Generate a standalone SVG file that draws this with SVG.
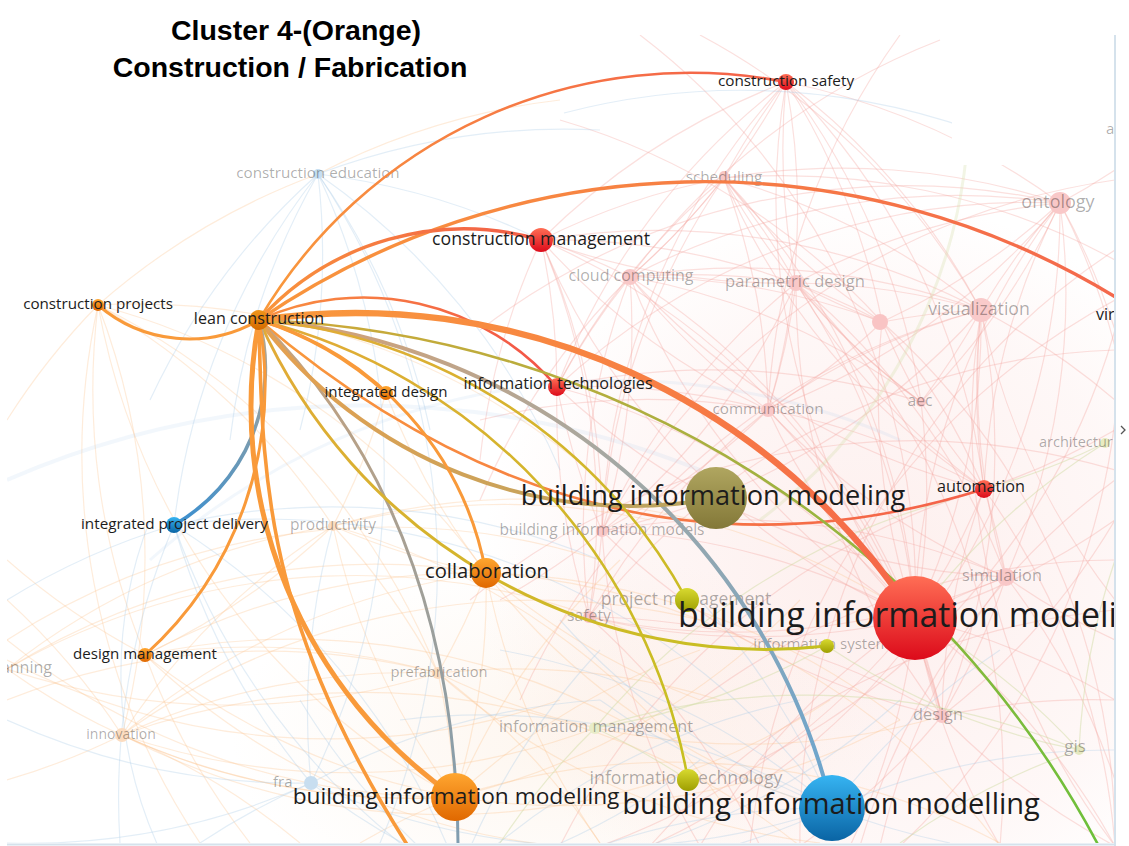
<svg xmlns="http://www.w3.org/2000/svg" width="1129" height="846" viewBox="0 0 1129 846">
<defs>
<style>
.t{font-family:"Liberation Sans",Arial,sans-serif;font-weight:bold;font-size:28.5px;fill:#000;text-anchor:middle}
.l{font-family:"Open Sans","Noto Sans",sans-serif;fill:#1c1c1c;text-anchor:middle}
.f{font-family:"Open Sans","Noto Sans",sans-serif;fill:#000;fill-opacity:.32;text-anchor:middle}
.p path{fill:none;stroke:#f5aaa3;stroke-opacity:.36;stroke-width:1.2}
.o path{fill:none;stroke:#fbc590;stroke-opacity:.32;stroke-width:1.2}
.b path{fill:none;stroke:#a9cbe8;stroke-opacity:.33;stroke-width:1.2}
.g path{fill:none;stroke:#d4dea8;stroke-opacity:.5;stroke-width:1.2}
.e path{fill:none;stroke-linecap:round}
</style>
<clipPath id="mc"><rect x="7" y="0" width="1108" height="843"/></clipPath>
<clipPath id="bc"><path d="M7 35H952V165H1115V843H7Z"/></clipPath>
<radialGradient id="tp" cx=".5" cy=".5" r=".5"><stop offset="0" stop-color="#f7b5ae" stop-opacity=".22"/><stop offset=".7" stop-color="#f7b5ae" stop-opacity=".1"/><stop offset="1" stop-color="#f7b5ae" stop-opacity="0"/></radialGradient>
<radialGradient id="to" cx=".5" cy=".5" r=".5"><stop offset="0" stop-color="#f8d2ae" stop-opacity=".2"/><stop offset="1" stop-color="#f8d2ae" stop-opacity="0"/></radialGradient>
<linearGradient id="nR" x1="0" y1="0" x2="0" y2="1"><stop offset="0" stop-color="#ff6e55"/><stop offset="1" stop-color="#dc0a1a"/></linearGradient>
<linearGradient id="nO" x1="0" y1="0" x2="0" y2="1"><stop offset="0" stop-color="#ffa630"/><stop offset="1" stop-color="#e06800"/></linearGradient>
<linearGradient id="nL" x1="0" y1="0" x2="0" y2="1"><stop offset="0" stop-color="#f0961a"/><stop offset="1" stop-color="#d46a00"/></linearGradient>
<linearGradient id="nV" x1="0" y1="0" x2="0" y2="1"><stop offset="0" stop-color="#b0a660"/><stop offset="1" stop-color="#837838"/></linearGradient>
<linearGradient id="nB" x1="0" y1="0" x2="0" y2="1"><stop offset="0" stop-color="#36b4f2"/><stop offset="1" stop-color="#0a64a4"/></linearGradient>
<linearGradient id="nY" x1="0" y1="0" x2="0" y2="1"><stop offset="0" stop-color="#d8da30"/><stop offset="1" stop-color="#9e9e00"/></linearGradient>
<linearGradient id="eCS" gradientUnits="userSpaceOnUse" x1="259" y1="320" x2="786" y2="82"><stop offset="0" stop-color="#f99a3c"/><stop offset="1" stop-color="#f4604a"/></linearGradient>
<linearGradient id="eVR" gradientUnits="userSpaceOnUse" x1="259" y1="320" x2="1115" y2="298"><stop offset="0" stop-color="#f9963c"/><stop offset="1" stop-color="#f4684c"/></linearGradient>
<linearGradient id="eCM" gradientUnits="userSpaceOnUse" x1="259" y1="320" x2="541" y2="240"><stop offset="0" stop-color="#f9963c"/><stop offset="1" stop-color="#f25c48"/></linearGradient>
<linearGradient id="eIT" gradientUnits="userSpaceOnUse" x1="259" y1="320" x2="557" y2="387"><stop offset="0" stop-color="#f99040"/><stop offset="1" stop-color="#f25048"/></linearGradient>
<linearGradient id="eRB" gradientUnits="userSpaceOnUse" x1="259" y1="320" x2="915" y2="618"><stop offset="0" stop-color="#f99a3c"/><stop offset="1" stop-color="#f5664a"/></linearGradient>
<linearGradient id="eAU" gradientUnits="userSpaceOnUse" x1="259" y1="320" x2="984" y2="489"><stop offset="0" stop-color="#f99a3c"/><stop offset="1" stop-color="#f4604a"/></linearGradient>
<linearGradient id="eOL" gradientUnits="userSpaceOnUse" x1="259" y1="320" x2="717" y2="498"><stop offset="0" stop-color="#e6a050"/><stop offset="1" stop-color="#b8a460"/></linearGradient>
<linearGradient id="eBB" gradientUnits="userSpaceOnUse" x1="259" y1="320" x2="832" y2="808"><stop offset="0" stop-color="#d9a070"/><stop offset=".45" stop-color="#a8a8a0"/><stop offset="1" stop-color="#6aa5d0"/></linearGradient>
<linearGradient id="eGR" gradientUnits="userSpaceOnUse" x1="259" y1="320" x2="458" y2="860"><stop offset="0" stop-color="#c9a27a"/><stop offset="1" stop-color="#7e9db2"/></linearGradient>
<linearGradient id="eIP" gradientUnits="userSpaceOnUse" x1="259" y1="320" x2="174" y2="525"><stop offset="0" stop-color="#b8a890"/><stop offset="1" stop-color="#3a8fd0"/></linearGradient>
<linearGradient id="eY" gradientUnits="userSpaceOnUse" x1="259" y1="320" x2="750" y2="700"><stop offset="0" stop-color="#e2aa38"/><stop offset="1" stop-color="#c6c020"/></linearGradient>
<linearGradient id="eGN" gradientUnits="userSpaceOnUse" x1="259" y1="320" x2="1100" y2="850"><stop offset="0" stop-color="#d0a838"/><stop offset=".45" stop-color="#a8b040"/><stop offset="1" stop-color="#6cc03a"/></linearGradient>
</defs>
<rect width="1129" height="846" fill="#fff"/>
<g id="title">
<text class="t" x="296" y="40">Cluster 4-(Orange)</text>
<text class="t" x="290" y="77">Construction / Fabrication</text>
</g>
<g clip-path="url(#bc)">
<ellipse cx="870" cy="580" rx="390" ry="380" fill="url(#tp)"/>
<ellipse cx="560" cy="740" rx="330" ry="190" fill="url(#to)"/>
<g id="connectors-background">
<g class="p">
<path d="M786 82A700 700 0 0 0 541 240"/><path d="M786 82A700 700 0 0 1 630 277"/><path d="M786 82A700 700 0 0 0 796 283"/><path d="M786 82A700 700 0 0 1 882 322"/><path d="M786 82A700 700 0 0 1 981 310"/><path d="M786 82A700 700 0 0 0 557 387"/><path d="M786 82A700 700 0 0 1 768 410"/><path d="M786 82A700 700 0 0 1 921 402"/><path d="M786 82A700 700 0 0 0 915 618"/><path d="M786 82A700 700 0 0 0 602 531"/><path d="M786 82A700 700 0 0 1 1060 203"/><path d="M786 82A700 700 0 0 1 984 489"/><path d="M786 82A700 700 0 0 0 724 178"/>
<path d="M724 178A700 700 0 0 0 541 240"/><path d="M724 178A700 700 0 0 1 630 277"/><path d="M724 178A700 700 0 0 1 796 283"/><path d="M724 178A700 700 0 0 0 882 322"/><path d="M724 178A700 700 0 0 1 981 310"/><path d="M724 178A700 700 0 0 1 1060 203"/><path d="M724 178A700 700 0 0 0 557 387"/><path d="M724 178A700 700 0 0 1 768 410"/><path d="M724 178A700 700 0 0 0 921 402"/><path d="M724 178A700 700 0 0 1 915 618"/><path d="M724 178A700 700 0 0 0 984 489"/><path d="M724 178A700 700 0 0 0 602 531"/><path d="M724 178A700 700 0 0 1 1115 260"/>
<path d="M1060 203A700 700 0 0 0 981 310"/><path d="M1060 203A700 700 0 0 1 882 322"/><path d="M1060 203A700 700 0 0 0 796 283"/><path d="M1060 203A700 700 0 0 0 630 277"/><path d="M1060 203A700 700 0 0 1 921 402"/><path d="M1060 203A700 700 0 0 0 984 489"/><path d="M1060 203A700 700 0 0 0 915 618"/><path d="M1060 203A700 700 0 0 1 1006 577"/><path d="M1060 203A700 700 0 0 1 1115 330"/><path d="M1060 203A700 700 0 0 0 1115 170"/><path d="M1060 203A700 700 0 0 1 768 410"/><path d="M1060 203A700 700 0 0 0 557 387"/>
<path d="M541 240A700 700 0 0 1 630 277"/><path d="M541 240A700 700 0 0 0 796 283"/><path d="M541 240A700 700 0 0 1 557 387"/><path d="M541 240A700 700 0 0 0 768 410"/><path d="M541 240A700 700 0 0 1 602 531"/><path d="M541 240A700 700 0 0 0 915 618"/><path d="M541 240A700 700 0 0 1 589 617"/><path d="M541 240A700 700 0 0 1 882 322"/><path d="M541 240A700 700 0 0 1 981 310"/><path d="M541 240A700 700 0 0 0 480 460"/>
<path d="M630 277A700 700 0 0 0 557 387"/><path d="M630 277A700 700 0 0 1 796 283"/><path d="M630 277A700 700 0 0 0 768 410"/><path d="M630 277A700 700 0 0 1 921 402"/><path d="M630 277A700 700 0 0 1 981 310"/><path d="M630 277A700 700 0 0 0 915 618"/><path d="M630 277A700 700 0 0 1 602 531"/><path d="M630 277A700 700 0 0 0 589 617"/><path d="M630 277A700 700 0 0 0 984 489"/><path d="M630 277A700 700 0 0 1 882 322"/>
<path d="M796 283A700 700 0 0 0 882 322"/><path d="M796 283A700 700 0 0 1 981 310"/><path d="M796 283A700 700 0 0 1 768 410"/><path d="M796 283A700 700 0 0 0 921 402"/><path d="M796 283A700 700 0 0 1 915 618"/><path d="M796 283A700 700 0 0 0 984 489"/><path d="M796 283A700 700 0 0 0 602 531"/><path d="M796 283A700 700 0 0 1 1006 577"/><path d="M796 283A700 700 0 0 0 942 716"/>
<path d="M981 310A700 700 0 0 1 921 402"/><path d="M981 310A700 700 0 0 0 984 489"/><path d="M981 310A700 700 0 0 1 915 618"/><path d="M981 310A700 700 0 0 0 1006 577"/><path d="M981 310A700 700 0 0 1 942 716"/><path d="M981 310A700 700 0 0 0 768 410"/><path d="M981 310A700 700 0 0 0 882 322"/><path d="M981 310A700 700 0 0 1 1115 400"/><path d="M981 310A700 700 0 0 0 1115 600"/><path d="M981 310A700 700 0 0 1 602 531"/>
<path d="M557 387A700 700 0 0 1 768 410"/><path d="M557 387A700 700 0 0 0 602 531"/><path d="M557 387A700 700 0 0 1 915 618"/><path d="M557 387A700 700 0 0 0 589 617"/><path d="M557 387A700 700 0 0 1 921 402"/>
<path d="M768 410A700 700 0 0 0 915 618"/><path d="M768 410A700 700 0 0 1 602 531"/><path d="M768 410A700 700 0 0 0 589 617"/><path d="M768 410A700 700 0 0 1 984 489"/><path d="M768 410A700 700 0 0 0 1006 577"/><path d="M768 410A700 700 0 0 1 942 716"/>
<path d="M915 618A700 700 0 0 0 984 489"/><path d="M915 618A700 700 0 0 1 1006 577"/><path d="M915 618A700 700 0 0 0 942 716"/><path d="M915 618A700 700 0 0 1 589 617"/><path d="M915 618A700 700 0 0 0 602 531"/><path d="M915 618A700 700 0 0 1 1115 700"/><path d="M915 618A700 700 0 0 0 1000 846"/><path d="M915 618A700 700 0 0 1 850 846"/><path d="M915 618A700 700 0 0 0 700 846"/><path d="M915 618A700 700 0 0 0 1115 520"/><path d="M915 618A700 700 0 0 1 600 846"/>
<path d="M984 489A700 700 0 0 1 1006 577"/><path d="M984 489A700 700 0 0 0 942 716"/><path d="M984 489A700 700 0 0 1 921 402"/><path d="M984 489A700 700 0 0 0 1115 430"/><path d="M1006 577A700 700 0 0 1 942 716"/><path d="M1006 577A700 700 0 0 0 1115 640"/><path d="M1006 577A700 700 0 0 1 1115 780"/><path d="M942 716A700 700 0 0 0 1115 846"/><path d="M942 716A700 700 0 0 1 800 846"/><path d="M942 716A700 700 0 0 1 1115 700"/>
<path d="M882 322A700 700 0 0 0 921 402"/><path d="M882 322A700 700 0 0 1 984 489"/><path d="M882 322A700 700 0 0 0 915 618"/><path d="M882 322A700 700 0 0 1 768 410"/><path d="M921 402A700 700 0 0 1 915 618"/><path d="M602 531A700 700 0 0 1 589 617"/><path d="M602 531A700 700 0 0 0 700 846"/><path d="M589 617A700 700 0 0 1 760 846"/>
<path d="M1115 250A700 700 0 0 0 800 846"/><path d="M640 35A700 700 0 0 1 915 618"/><path d="M900 35A700 700 0 0 0 768 410"/><path d="M700 35A700 700 0 0 1 981 310"/><path d="M940 40A700 700 0 0 0 630 277"/><path d="M560 120A700 700 0 0 1 882 322"/><path d="M1115 180A700 700 0 0 0 602 531"/><path d="M480 330A700 700 0 0 1 1060 203"/><path d="M470 600A700 700 0 0 1 1115 470"/><path d="M1115 560A700 700 0 0 0 700 700"/><path d="M1115 330A700 700 0 0 1 760 760"/><path d="M650 846A700 700 0 0 1 1115 610"/>
<path d="M1115 480A700 700 0 0 0 860 846"/><path d="M1115 420A700 700 0 0 1 900 846"/><path d="M1060 203A700 700 0 0 1 1115 700"/><path d="M1006 577A700 700 0 0 0 880 846"/><path d="M984 489A700 700 0 0 1 1115 846"/><path d="M915 618A700 700 0 0 1 1115 846"/><path d="M942 716A700 700 0 0 0 1115 520"/><path d="M981 310A700 700 0 0 0 1115 846"/><path d="M882 322A700 700 0 0 1 1115 846"/><path d="M796 283A700 700 0 0 1 1000 846"/><path d="M630 277A700 700 0 0 1 942 716"/><path d="M541 240A700 700 0 0 1 942 716"/><path d="M557 387A700 700 0 0 0 1006 577"/><path d="M602 531A700 700 0 0 1 1006 577"/><path d="M589 617A700 700 0 0 0 1006 577"/><path d="M589 617A700 700 0 0 1 942 716"/><path d="M602 531A700 700 0 0 0 942 716"/><path d="M480 420A700 700 0 0 1 768 410"/><path d="M480 500A700 700 0 0 1 630 277"/><path d="M500 600A700 700 0 0 0 796 283"/><path d="M520 700A700 700 0 0 1 981 310"/><path d="M560 846A700 700 0 0 1 984 489"/><path d="M650 846A700 700 0 0 0 1060 203"/><path d="M750 846A700 700 0 0 1 1115 300"/><path d="M1115 350A700 700 0 0 0 589 617"/>
</g>
<g class="o">
<path d="M98 305A700 700 0 0 1 122 735"/><path d="M98 305A700 700 0 0 0 145 655"/><path d="M98 305A700 700 0 0 1 333 526"/><path d="M98 305A700 700 0 0 1 438 673"/><path d="M98 305A700 700 0 0 1 486 573"/><path d="M98 305A700 700 0 0 0 7 420"/><path d="M98 305A700 700 0 0 0 200 843"/><path d="M98 305A700 700 0 0 1 318 174"/><path d="M318 174A700 700 0 0 1 560 100"/><path d="M98 305A700 700 0 0 0 455 797"/><path d="M98 305A700 700 0 0 1 600 480"/>
<path d="M122 735A700 700 0 0 1 438 673"/><path d="M122 735A700 700 0 0 1 486 573"/><path d="M122 735A700 700 0 0 0 455 797"/><path d="M122 735A700 700 0 0 1 333 526"/><path d="M122 735A700 700 0 0 0 7 600"/><path d="M122 735A700 700 0 0 1 300 843"/><path d="M122 735A700 700 0 0 0 595 728"/><path d="M122 735A700 700 0 0 1 7 780"/><path d="M122 735A700 700 0 0 1 700 620"/><path d="M122 735A700 700 0 0 0 830 700"/>
<path d="M7 669A700 700 0 0 1 333 526"/><path d="M7 669A700 700 0 0 1 486 573"/><path d="M7 669A700 700 0 0 0 438 673"/><path d="M7 669A700 700 0 0 0 455 797"/><path d="M7 669A700 700 0 0 1 650 640"/><path d="M7 660A700 700 0 0 0 560 700"/><path d="M7 640A700 700 0 0 1 600 560"/>
<path d="M145 655A700 700 0 0 1 438 673"/><path d="M145 655A700 700 0 0 1 486 573"/><path d="M145 655A700 700 0 0 0 333 526"/><path d="M145 655A700 700 0 0 0 455 797"/><path d="M145 655A700 700 0 0 1 620 720"/><path d="M145 655A700 700 0 0 1 7 560"/><path d="M145 655A700 700 0 0 0 250 843"/>
<path d="M333 526A700 700 0 0 0 486 573"/><path d="M333 526A700 700 0 0 1 438 673"/><path d="M333 526A700 700 0 0 0 455 797"/><path d="M333 526A700 700 0 0 1 720 800"/><path d="M333 526A700 700 0 0 1 650 520"/><path d="M333 526A700 700 0 0 0 386 393"/>
<path d="M438 673A700 700 0 0 1 455 797"/><path d="M438 673A700 700 0 0 0 486 573"/><path d="M438 673A700 700 0 0 1 720 700"/><path d="M438 673A700 700 0 0 0 820 843"/><path d="M438 673A700 700 0 0 1 600 843"/><path d="M438 673A700 700 0 0 0 7 700"/>
<path d="M486 573A700 700 0 0 1 455 797"/><path d="M486 573A700 700 0 0 0 700 700"/><path d="M486 573A700 700 0 0 1 900 720"/><path d="M486 573A700 700 0 0 0 830 810"/><path d="M486 573A700 700 0 0 1 386 393"/><path d="M486 573A700 700 0 0 0 600 843"/>
<path d="M455 797A700 700 0 0 1 700 650"/><path d="M455 797A700 700 0 0 0 900 720"/><path d="M455 797A700 700 0 0 1 620 560"/><path d="M455 797A700 700 0 0 1 7 640"/><path d="M455 797A700 700 0 0 0 360 843"/><path d="M455 797A700 700 0 0 1 1000 843"/><path d="M455 797A700 700 0 0 0 800 600"/>
<path d="M486 573A700 700 0 0 1 1000 846"/><path d="M438 673A700 700 0 0 0 942 716"/><path d="M333 526A700 700 0 0 1 915 618"/><path d="M145 655A700 700 0 0 0 700 846"/><path d="M122 735A700 700 0 0 1 800 846"/>
</g>
<g class="b">
<path d="M318 174A700 700 0 0 0 174 525"/><path d="M318 174A700 700 0 0 0 230 440"/><path d="M318 174A700 700 0 0 1 311 783"/><path d="M318 174A700 700 0 0 1 380 843"/><path d="M318 174A700 700 0 0 1 560 470"/><path d="M318 174A700 700 0 0 1 541 240"/><path d="M318 174A700 700 0 0 1 300 430"/><path d="M318 174A700 700 0 0 1 430 430"/><path d="M318 174A700 700 0 0 1 600 130"/><path d="M318 174A700 700 0 0 0 150 400"/>
<path d="M174 525A700 700 0 0 0 311 783"/><path d="M174 525A700 700 0 0 1 832 808"/><path d="M174 525A700 700 0 0 1 600 560"/><path d="M174 525A700 700 0 0 0 400 843"/><path d="M174 525A700 700 0 0 0 7 600"/><path d="M174 525A700 700 0 0 1 457 870"/><path d="M174 525A700 700 0 0 0 120 843"/>
<path d="M311 783A700 700 0 0 0 832 808"/><path d="M311 783A700 700 0 0 1 7 720"/><path d="M311 783A700 700 0 0 0 200 843"/><path d="M311 783A700 700 0 0 1 333 526"/><path d="M311 783A700 700 0 0 1 600 700"/><path d="M311 783A700 700 0 0 0 457 870"/><path d="M311 783A700 700 0 0 1 7 843"/>
<path d="M832 808A700 700 0 0 0 500 650"/><path d="M832 808A700 700 0 0 1 600 700"/><path d="M832 808A700 700 0 0 0 700 600"/><path d="M832 808A700 700 0 0 1 1115 750"/><path d="M832 808A700 700 0 0 0 950 843"/><path d="M832 808A700 700 0 0 1 457 870"/><path d="M832 808A700 700 0 0 0 400 720"/><path d="M832 808A700 700 0 0 1 1000 650"/>
<path d="M457 880A700 700 0 0 1 600 650"/><path d="M457 880A700 700 0 0 0 700 760"/><path d="M457 880A700 700 0 0 1 300 700"/><path d="M457 880A700 700 0 0 1 800 700"/>
<path d="M832 808A700 700 0 0 0 600 846"/><path d="M832 808A700 700 0 0 1 560 620"/><path d="M457 880A700 700 0 0 0 900 700"/>
<path d="M7 480A900 900 0 0 1 700 470" style="stroke-width:4;stroke-opacity:.15"/><path d="M150 560A700 700 0 0 1 900 440" style="stroke-width:3;stroke-opacity:.15"/><path d="M150 520A420 420 0 0 0 158 846"/><path d="M564 113A700 700 0 0 1 1000 140"/>
</g>
<g class="g">
<path d="M595 728A700 700 0 0 1 1079 750"/><path d="M595 728A700 700 0 0 0 827 646"/><path d="M595 728A700 700 0 0 1 688 780"/><path d="M595 728A700 700 0 0 0 500 843"/><path d="M595 728A700 700 0 0 1 950 500"/><path d="M1079 750A700 700 0 0 0 915 618"/><path d="M1079 750A700 700 0 0 1 1115 560"/><path d="M1079 750A700 700 0 0 0 900 843"/><path d="M1079 750A700 700 0 0 1 827 646"/><path d="M1105 443A700 700 0 0 0 915 618"/><path d="M1105 443A700 700 0 0 1 984 489"/>
<path d="M965 40A520 520 0 0 1 760 520" style="stroke-width:3;stroke-opacity:.3"/>
</g>
</g>
</g>
<g clip-path="url(#mc)">
<g id="n-construction-education"><circle cx="318" cy="174" r="5" fill="#c5def2"/><text class="f" x="318" y="178" font-size="15.2">construction education</text></g>
<g id="n-scheduling"><circle cx="724" cy="176" r="5" fill="#f9c6c4"/><text class="f" x="724" y="182" font-size="15.3">scheduling</text></g>
<g id="n-ontology"><circle cx="1060" cy="203" r="11" fill="#f9c8c8"/><text class="f" x="1058" y="208" font-size="18">ontology</text></g>
<g id="n-cloud-computing"><circle cx="630" cy="277" r="8" fill="#f9c8c8"/><text class="f" x="631" y="281" font-size="16">cloud computing</text></g>
<g id="n-parametric-design"><circle cx="796" cy="283" r="8" fill="#f9c8c8"/><text class="f" x="795" y="287" font-size="16.6">parametric design</text></g>
<g id="n-hidden"><circle cx="880" cy="322" r="8" fill="#f9c4c4"/></g>
<g id="n-visualization"><circle cx="981" cy="310" r="12" fill="#f9caca"/><text class="f" x="979" y="315" font-size="17.7">visualization</text></g>
<g id="n-communication"><circle cx="768" cy="410" r="7" fill="#f9c8c8"/><text class="f" x="768" y="414" font-size="15.3">communication</text></g>
<g id="n-aec"><circle cx="921" cy="402" r="5" fill="#f9c8c8"/><text class="f" x="920" y="406" font-size="15.7">aec</text></g>
<g id="n-architecture"><circle cx="1105" cy="443" r="5" fill="#e8ecc0"/><text class="f" x="1039" y="447" font-size="14.5" style="text-anchor:start">architectur</text></g>
<g id="n-a"><text class="f" x="1106" y="134" font-size="15" style="text-anchor:start">a</text></g>
<g id="n-building-information-models"><circle cx="602" cy="531" r="6" fill="#f9c8c8"/><text class="f" x="602" y="535" font-size="15.5">building information models</text></g>
<g id="n-productivity"><circle cx="333" cy="526" r="5" fill="#fcdcc0"/><text class="f" x="333" y="530" font-size="15.5">productivity</text></g>
<g id="n-simulation"><circle cx="1006" cy="577" r="9" fill="#f9c8c8"/><text class="f" x="1002" y="581" font-size="16.3">simulation</text></g>
<g id="n-safety"><circle cx="589" cy="617" r="6" fill="#f9c4c4"/><text class="f" x="589" y="621" font-size="15.8">safety</text></g>
<g id="n-planning"><text class="f" x="19.5" y="673" font-size="16">planning</text></g>
<g id="n-prefabrication"><circle cx="438" cy="673" r="6" fill="#fcdcc0"/><text class="f" x="439" y="677" font-size="14.7">prefabrication</text></g>
<g id="n-design"><circle cx="942" cy="716" r="7" fill="#f9c8c8"/><text class="f" x="938" y="720" font-size="16.3">design</text></g>
<g id="n-innovation"><circle cx="122" cy="735" r="7" fill="#fcdcc0"/><text class="f" x="121" y="739" font-size="14">innovation</text></g>
<g id="n-information-management"><circle cx="595" cy="728" r="6" fill="#e8ecc8"/><text class="f" x="596" y="732" font-size="16.2">information management</text></g>
<g id="n-gis"><circle cx="1079" cy="750" r="5" fill="#e5e8c0"/><text class="f" x="1075" y="752" font-size="17">gis</text></g>
<g id="n-framework"><circle cx="311" cy="783" r="7" fill="#c8def0"/><text class="f" x="273" y="787" font-size="15" style="text-anchor:start">fra</text></g>
<g id="n-project-management-label"><text class="f" x="686" y="605" font-size="17.5">project management</text></g>
<g id="n-information-systems-label"><text class="f" x="825" y="649" font-size="15">information systems</text></g>
<g id="n-information-technology-label"><text class="f" x="686" y="784" font-size="17.7">information technology</text></g>

<g id="connectors" class="e">
<path d="M259 320A500 500 0 0 1 786 82" stroke="url(#eCS)" stroke-width="2.6"/>
<path d="M259 320A788 788 0 0 1 1117 298" stroke="url(#eVR)" stroke-width="3.4"/>
<path d="M259 320A276 276 0 0 1 541 240" stroke="url(#eCM)" stroke-width="3.4"/>
<path d="M259 320A254 254 0 0 1 557 387" stroke="url(#eIT)" stroke-width="2.6"/>
<path d="M259 320Q600 610 984 489" stroke="url(#eAU)" stroke-width="2.6"/>
<path d="M259 320A990 990 0 0 1 1104 856" stroke="url(#eGN)" stroke-width="2.6"/>
<path d="M259 320A641 641 0 0 1 832 808" stroke="url(#eBB)" stroke-width="4"/>
<path d="M259 320C340 400 460 560 458 860" stroke="url(#eGR)" stroke-width="3"/>
<path d="M259 320A465 465 0 0 0 717 498" stroke="url(#eOL)" stroke-width="4"/>
<path d="M259 320A540 540 0 0 1 687 600" stroke="url(#eY)" stroke-width="2.6"/>
<path d="M259 320A578 578 0 0 1 688 780" stroke="url(#eY)" stroke-width="2.6"/>
<path d="M259 320A555 555 0 0 0 827 646" stroke="url(#eY)" stroke-width="3"/>
<path d="M259 320A339 339 0 0 1 386 393" stroke="#f99a3a" stroke-width="3"/>
<path d="M259 320A325 325 0 0 1 486 573" stroke="#f99a3a" stroke-width="3"/>
<path d="M259 320A139 139 0 0 1 98 305" stroke="#f99a3a" stroke-width="3"/>
<path d="M259 320A181 181 0 0 1 174 525" stroke="url(#eIP)" stroke-width="3.6"/>
<path d="M259 320A363 363 0 0 1 145 655" stroke="#f99a3a" stroke-width="3"/>
<path d="M259 320A475 475 0 0 0 455 797" stroke="#f99a3a" stroke-width="5"/>
<path d="M259 320C262 500 270 640 430 880" stroke="#f99a3a" stroke-width="3.6"/>
<path d="M259 320A665 665 0 0 1 915 618" stroke="url(#eRB)" stroke-width="6.5"/>
</g>

<g id="n-construction-safety"><circle cx="786" cy="82" r="8" fill="url(#nR)"/><text class="l" x="786" y="86" font-size="15.3">construction safety</text></g>
<g id="n-construction-management"><circle cx="541" cy="240" r="12" fill="url(#nR)"/><text class="l" x="541" y="245" font-size="17.7">construction management</text></g>
<g id="n-construction-projects"><circle cx="98" cy="305" r="6" fill="url(#nO)"/><text class="l" x="98" y="309" font-size="15.2">construction projects</text></g>
<g id="n-lean-construction"><circle cx="259" cy="320" r="10" fill="url(#nL)"/><text class="l" x="259" y="324" font-size="16.1">lean construction</text></g>
<g id="n-integrated-design"><circle cx="386" cy="393" r="7" fill="url(#nO)"/><text class="l" x="386" y="397" font-size="15.1">integrated design</text></g>
<g id="n-information-technologies"><circle cx="557" cy="387" r="9" fill="url(#nR)"/><text class="l" x="558" y="388.5" font-size="16.2">information technologies</text></g>
<g id="n-automation"><circle cx="984" cy="489" r="9" fill="url(#nR)"/><text class="l" x="981" y="492" font-size="16.2">automation</text></g>
<g id="n-integrated-project-delivery"><circle cx="174" cy="525" r="8" fill="url(#nB)"/><text class="l" x="174.5" y="529" font-size="15.25">integrated project delivery</text></g>
<g id="n-design-management"><circle cx="145" cy="655" r="7" fill="url(#nO)"/><text class="l" x="145" y="659" font-size="15.1">design management</text></g>
<g id="n-project-management"><circle cx="687" cy="600" r="12" fill="url(#nY)"/></g>
<g id="n-information-systems"><circle cx="827" cy="646" r="7" fill="url(#nY)"/></g>
<g id="n-information-technology"><circle cx="688" cy="780" r="11" fill="url(#nY)"/></g>
<g id="n-collaboration"><circle cx="486" cy="573" r="15" fill="url(#nO)"/><text class="l" x="487" y="578" font-size="20.2">collaboration</text></g>
<g id="n-bim-olive"><circle cx="716" cy="498" r="31" fill="url(#nV)"/><text class="l" x="713" y="505" font-size="27.2">building information modeling</text></g>
<g id="n-bim-red"><circle cx="915" cy="618" r="42" fill="url(#nR)"/><text class="l" x="917" y="627" font-size="33.8">building information modeling</text></g>
<g id="n-bim-orange"><circle cx="455" cy="797" r="24" fill="url(#nO)"/><text class="l" x="456" y="804" font-size="22.7">building information modelling</text></g>
<g id="n-bim-blue"><circle cx="832" cy="808" r="33" fill="url(#nB)"/><text class="l" x="831" y="814" font-size="29">building information modelling</text></g>
<g id="n-virtual"><text class="l" x="1096" y="320" font-size="16" style="text-anchor:start">vir</text></g>
</g>
<g id="frame">
<path d="M1115 35V846" stroke="#d5e2ec" stroke-width="2" fill="none"/>
<path d="M7 844.5H1115" stroke="#d5e2ec" stroke-width="2" fill="none"/>
<path d="M1121 426L1125 430L1121 434" stroke="#555" stroke-width="1.3" fill="none"/>
</g>
</svg>
